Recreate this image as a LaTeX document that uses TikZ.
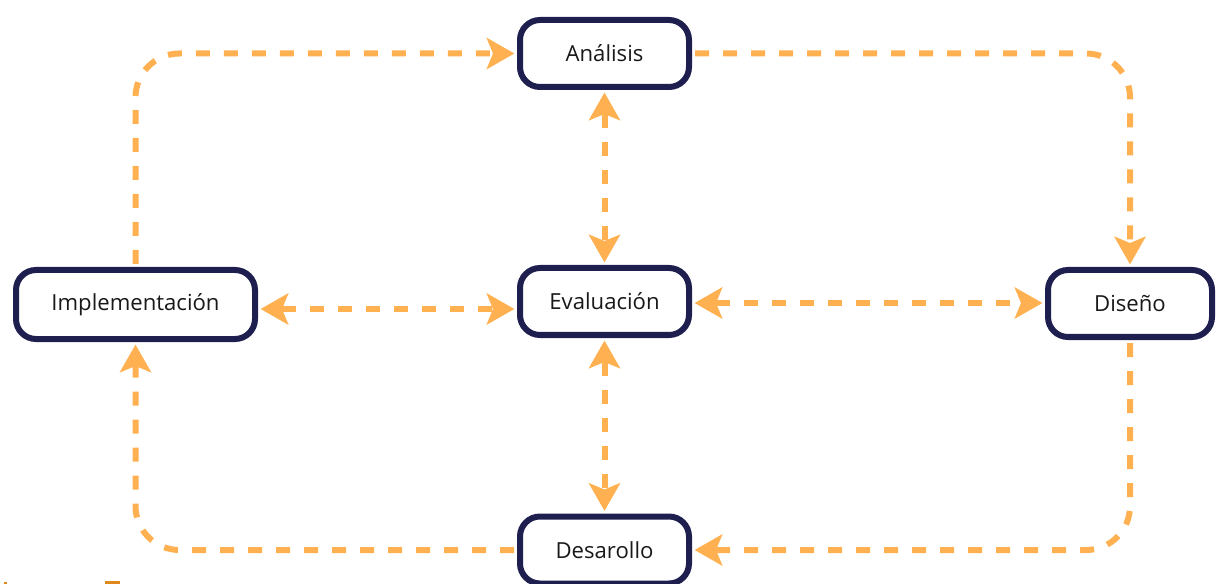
\documentclass[tikz,border=0pt]{standalone}
\usepackage{fontspec}
\setmainfont{Open Sans}
\usetikzlibrary{arrows.meta}
\definecolor{navy}{HTML}{1E1F4F}
\definecolor{flow}{HTML}{FFB152}
\definecolor{capt}{HTML}{E0891A}
\begin{document}
\begin{tikzpicture}[x=0.75pt,y=-0.75pt,
  stage/.style={draw=navy, line width=4.5pt, rounded corners=15pt, fill=white,
    minimum width=126.75pt, minimum height=50.25pt, inner sep=0pt,
    font=\fontsize{16.6}{20}\selectfont, text=black!90},
  flowline/.style={draw=flow, line width=4.5pt, dash pattern=on 10.5pt off 10.5pt},
  head/.tip={Stealth[length=21pt,width=24pt,inset=5pt,line width=0pt]},
  onetip/.style={-head, shorten >=2pt, shorten <=2.25pt},
  twotips/.style={head-head, shorten >=2pt, shorten <=2pt},
  loop/.style={rounded corners=33pt}
]
\useasboundingbox (0,0) rectangle (1216,584);

% stages of the cycle
\node[stage] (ana) at (604.5,53.5) {Análisis};
\node[stage] (eva) at (604.5,301.5) {Evaluación};
\node[stage, minimum width=179.25pt, minimum height=51.75pt] (imp) at (135.5,304.5) {Implementación};
\node[stage, minimum width=123pt] (dis) at (1130,303.5) {Diseño};
\node[stage] (des) at (604.5,550) {Desarollo};

% outer loop
\draw[flowline, onetip, loop] (imp.north) |- (ana.west);
\draw[flowline, onetip, loop] (ana.east) -| (dis.north);
\draw[flowline, onetip, loop] (dis.south) |- (des.east);
\draw[flowline, onetip, loop] (des.west) -| (imp.south);

% links with the evaluation stage
\draw[flowline, twotips] (ana.south) -- (eva.north);
\draw[flowline, twotips] (eva.south) -- (des.north);
\draw[flowline, twotips] (imp.east |- 0,309) -- (eva.west |- 0,309);
\draw[flowline, twotips] (eva.east |- 0,303) -- (dis.west |- 0,303);

% caption cut by the lower edge
\fill[capt] (4,582) rectangle (7,584);
\fill[capt] (105,581) rectangle (120,584);
\end{tikzpicture}
\end{document}
